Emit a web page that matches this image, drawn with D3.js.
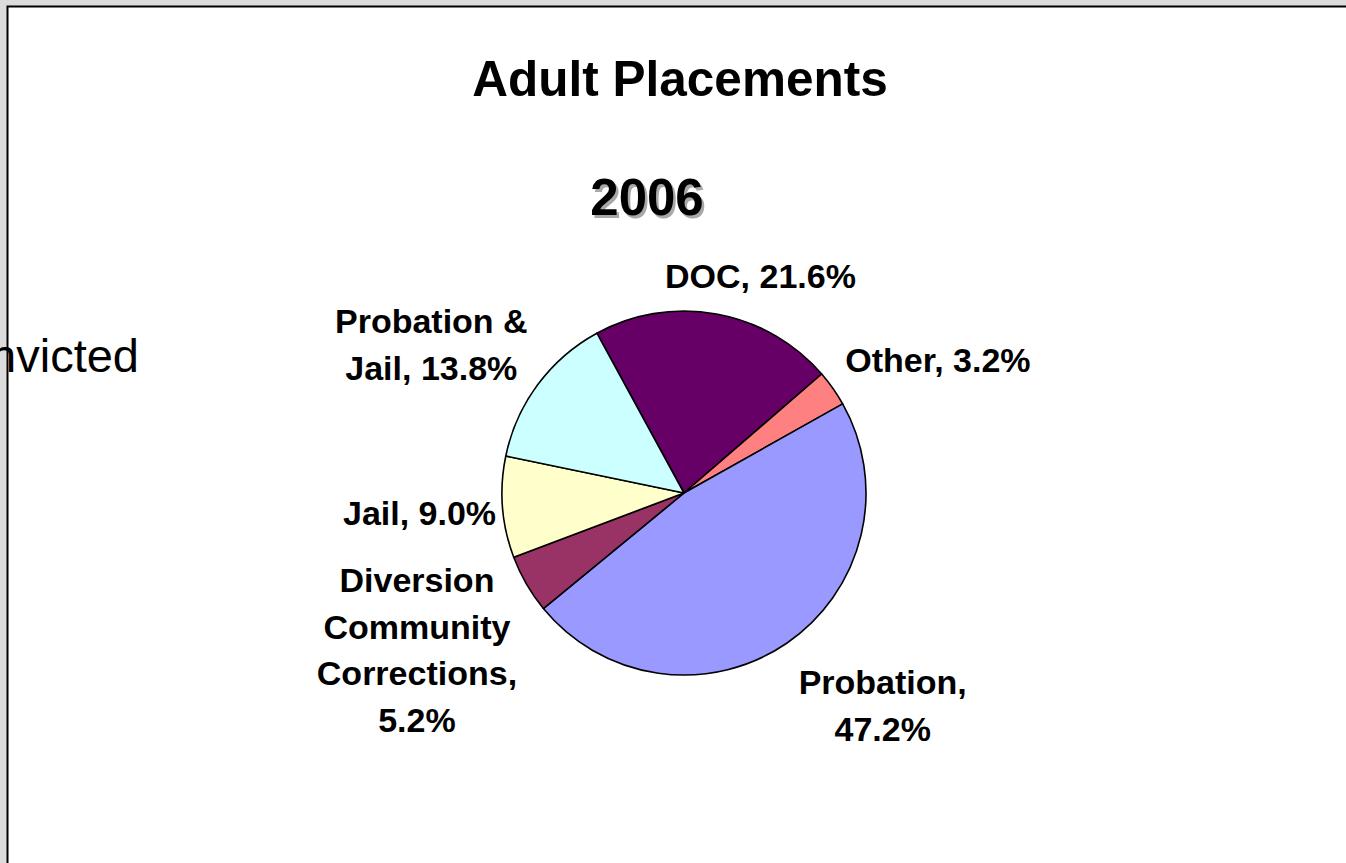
<!DOCTYPE html>
<html><head><meta charset="utf-8">
<script src="https://cdn.jsdelivr.net/npm/d3@7"></script>
<style>html,body{margin:0;padding:0;background:#dcdcdc;overflow:hidden}</style>
</head><body><svg id="c" width="1346" height="863"></svg>
<script>
// ---- data ----
const categories = ["DOC", "Other", "Probation", "Diversion Community Corrections", "Jail", "Probation & Jail"];
const values = [21.6, 3.2, 47.2, 5.2, 9.0, 13.8];
const palette = ["#660066", "#ff8080", "#9999ff", "#993366", "#ffffcc", "#ccffff"];
const title = "Adult Placements";
const subtitle = "2006";
const sideText = "nvicted";

// ---- layout ----
const W = 1346, H = 863;
const svg = d3.select("#c");
const FONT = "'Liberation Sans', Arial, sans-serif";

// page background + border
svg.append("rect").attr("x", 0).attr("y", 0).attr("width", W).attr("height", H).attr("fill", "#dcdcdc");
svg.append("rect").attr("x", 7.5).attr("y", 6.5).attr("width", W + 10).attr("height", H + 10)
  .attr("fill", "#ffffff");

// stray text from the neighbouring slide
svg.append("text").attr("x", 139).attr("y", 372).attr("text-anchor", "end")
  .attr("font-family", FONT).attr("font-size", 47).attr("fill", "#000")
  .text(sideText);

svg.append("path").attr("d", `M7.5,${H} V6.5 H${W}`).attr("fill", "none")
  .attr("stroke", "#000").attr("stroke-width", 2);

// titles
svg.append("text").attr("x", 680).attr("y", 96).attr("text-anchor", "middle")
  .attr("font-family", FONT).attr("font-weight", "bold").attr("font-size", 49.5)
  .text(title);
[["#a8a8a8", 2.5], ["#000", 0]].forEach(([c, o]) => {
  svg.append("text").attr("x", 647 + o).attr("y", 215 + o).attr("text-anchor", "middle")
    .attr("font-family", FONT).attr("font-weight", "bold").attr("font-size", 51)
    .attr("fill", c).text(subtitle);
});

// pie
const cx = 684, cy = 493, r = 182;
const deg = Math.PI / 180;
const start = -28.6 * deg;
const data = categories.map((c, i) => ({ cat: c, value: values[i] }));
const pie = d3.pie().sort(null).value(d => d.value).startAngle(start).endAngle(start + 2 * Math.PI);
const arcs = pie(data);
const arc = d3.arc().innerRadius(0).outerRadius(r);
const color = d3.scaleOrdinal().domain(categories).range(palette);

const g = svg.append("g").attr("transform", `translate(${cx},${cy})`);
g.selectAll("path.slice").data(arcs).enter().append("path")
  .attr("class", "slice")
  .attr("d", arc)
  .attr("fill", d => color(d.data.cat))
  .attr("stroke", "#000").attr("stroke-width", 1.6).attr("stroke-linejoin", "round");

// labels
const fmt = d3.format(".1f");
const LFS = 34, LH = 46.5, WRAP = 215;
const nudges = {
  "DOC": [44, -37.5],
  "Other": [105, -28],
  "Probation": [96, 62.7],
  "Diversion Community Corrections": [-109.5, 66.3],
  "Jail": [-83, 6.5],
  "Probation & Jail": [-106.5, -39.7]
};
const measurer = svg.append("text").attr("font-family", FONT).attr("font-weight", "bold")
  .attr("font-size", LFS).attr("visibility", "hidden");
function wrap(str) {
  const words = str.split(" ");
  const lines = [];
  let cur = "";
  words.forEach(w => {
    const t = cur ? cur + " " + w : w;
    measurer.text(t);
    if (cur && measurer.node().getComputedTextLength() > WRAP) { lines.push(cur); cur = w; }
    else cur = t;
  });
  lines.push(cur);
  return lines;
}
arcs.forEach(a => {
  const mid = (a.startAngle + a.endAngle) / 2;
  const ex = r * Math.sin(mid), ey = -r * Math.cos(mid);
  const [nx, ny] = nudges[a.data.cat];
  const bx = cx + ex + nx, by = cy + ey + ny;
  const lines = wrap(`${a.data.cat}, ${fmt(a.data.value)}%`);
  const t = svg.append("text").attr("text-anchor", "middle")
    .attr("font-family", FONT).attr("font-weight", "bold").attr("font-size", LFS).attr("fill", "#000");
  lines.forEach((ln, i) => {
    t.append("tspan").attr("x", bx)
      .attr("y", by - (lines.length - 1) * LH / 2 + i * LH + 11.5)
      .text(ln);
  });
});
measurer.remove();
</script></body></html>
